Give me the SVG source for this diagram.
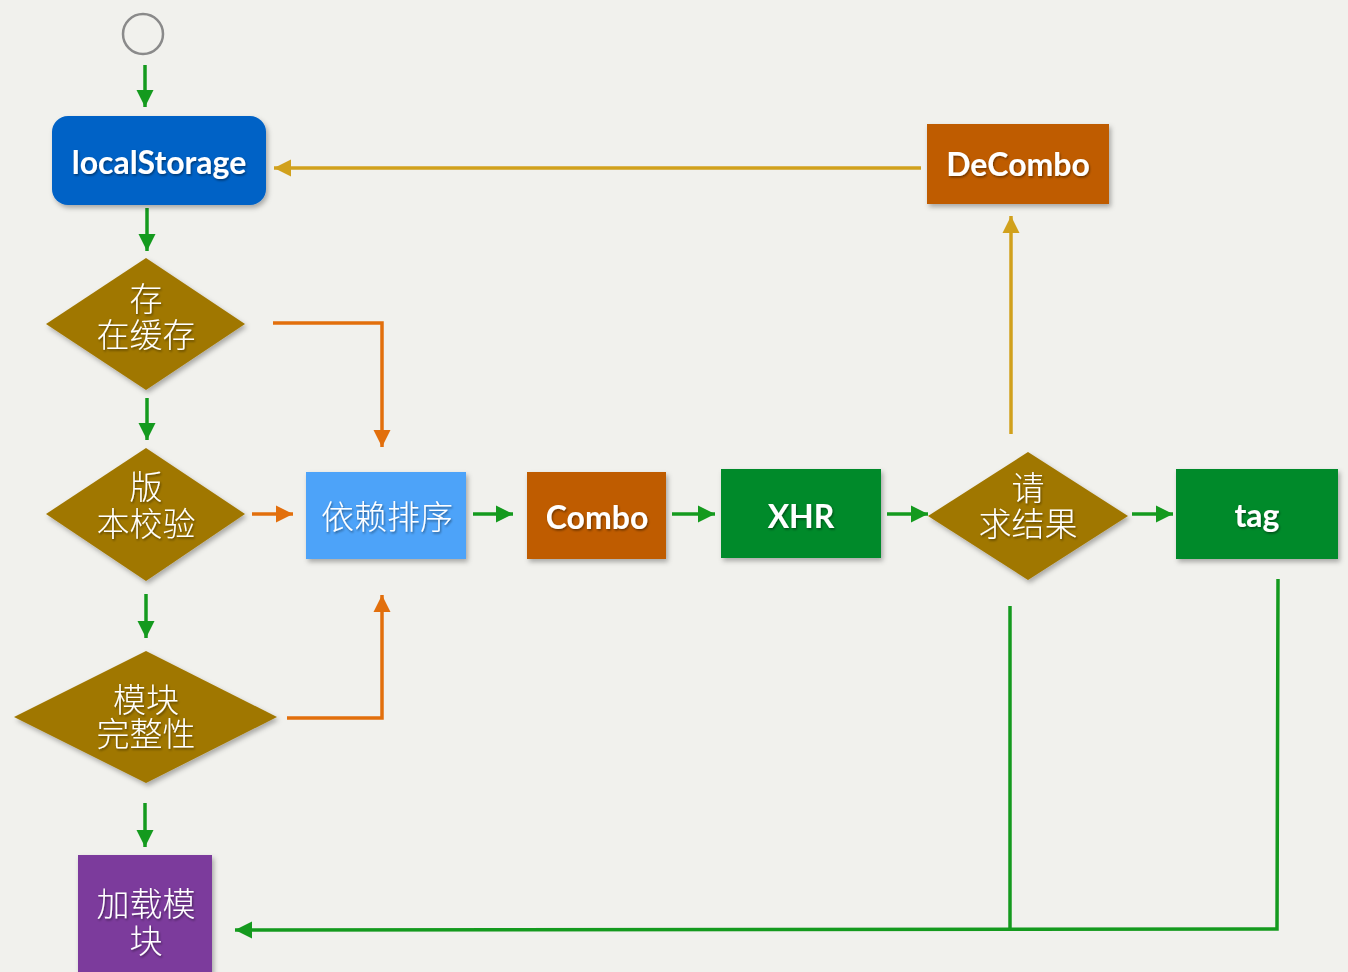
<svg xmlns="http://www.w3.org/2000/svg" width="1348" height="972" viewBox="0 0 1348 972">
  <defs>
    <style>
      .lat { font-family: "Lato", "Liberation Sans", sans-serif; font-size: 32px; font-weight: bold; fill: #ffffff; text-anchor: middle; }
      .cjk { font-family: "Noto Sans CJK SC", "Noto Sans", sans-serif; font-size: 33px; font-weight: 300; fill: #ffffff; text-anchor: middle; }
      .g { stroke: #149a1e; stroke-width: 3.5; fill: none; }
      .o { stroke: #e26f0c; stroke-width: 3.5; fill: none; }
      .y { stroke: #d1a11c; stroke-width: 3.5; fill: none; }
      .dia { fill: #a07700; }
    </style>
    <filter id="sh" x="-10%" y="-10%" width="125%" height="130%">
      <feDropShadow dx="2" dy="3" stdDeviation="2.5" flood-color="#000" flood-opacity="0.3"/>
    </filter>
    <filter id="ts" x="-10%" y="-20%" width="120%" height="150%">
      <feDropShadow dx="1" dy="1.5" stdDeviation="1" flood-color="#000" flood-opacity="0.45"/>
    </filter>
    <marker id="ag" markerUnits="userSpaceOnUse" markerWidth="18" markerHeight="18" refX="17" refY="9" orient="auto">
      <path d="M0,0.5 L17,9 L0,17.5 z" fill="#149a1e"/>
    </marker>
    <marker id="ao" markerUnits="userSpaceOnUse" markerWidth="18" markerHeight="18" refX="17" refY="9" orient="auto">
      <path d="M0,0.5 L17,9 L0,17.5 z" fill="#e26f0c"/>
    </marker>
    <marker id="ay" markerUnits="userSpaceOnUse" markerWidth="18" markerHeight="18" refX="17" refY="9" orient="auto">
      <path d="M0,0.5 L17,9 L0,17.5 z" fill="#d1a11c"/>
    </marker>
  </defs>

  <rect x="0" y="0" width="1348" height="972" fill="#f1f1ed"/>

  <g id="connectors">
    <line class="g" x1="145" y1="65" x2="145" y2="107" marker-end="url(#ag)"/>
    <line class="g" x1="147" y1="208" x2="147" y2="251" marker-end="url(#ag)"/>
    <line class="g" x1="147" y1="398" x2="147" y2="440" marker-end="url(#ag)"/>
    <line class="g" x1="146" y1="594" x2="146" y2="638" marker-end="url(#ag)"/>
    <line class="g" x1="145" y1="803" x2="145" y2="847" marker-end="url(#ag)"/>
    <polyline class="o" points="273,323 382,323 382,447" marker-end="url(#ao)"/>
    <line class="o" x1="252" y1="514" x2="293" y2="514" marker-end="url(#ao)"/>
    <polyline class="o" points="287,718 382,718 382,595" marker-end="url(#ao)"/>
    <line class="g" x1="473" y1="514" x2="513" y2="514" marker-end="url(#ag)"/>
    <line class="g" x1="672" y1="514" x2="715" y2="514" marker-end="url(#ag)"/>
    <line class="g" x1="887" y1="514" x2="928" y2="514" marker-end="url(#ag)"/>
    <line class="g" x1="1132" y1="514" x2="1173" y2="514" marker-end="url(#ag)"/>
    <line class="y" x1="1011" y1="434" x2="1011" y2="216" marker-end="url(#ay)"/>
    <line class="y" x1="921" y1="168" x2="274" y2="168" marker-end="url(#ay)"/>
    <line class="g" x1="1010" y1="606" x2="1010" y2="929"/>
    <polyline class="g" points="1278,579 1277,929 235,930" marker-end="url(#ag)"/>
  </g>

  <g id="start">
    <circle cx="143" cy="34" r="20" fill="none" stroke="#8a8a8a" stroke-width="2.5"/>
  </g>

  <g id="localStorage">
    <rect x="52" y="116" width="214" height="89" rx="16" fill="#0462c6" filter="url(#sh)"/>
    <text class="lat" x="159" y="174" filter="url(#ts)" font-weight="normal">localStorage</text>
  </g>

  <g id="cacheExists">
    <polygon class="dia" points="146,258 245,324 146,390 46,324" filter="url(#sh)"/>
    <text class="cjk" filter="url(#ts)"><tspan x="146" y="311">存</tspan><tspan x="146" y="347">在缓存</tspan></text>
  </g>

  <g id="versionCheck">
    <polygon class="dia" points="146,448 245,514 146,581 46,514" filter="url(#sh)"/>
    <text class="cjk" filter="url(#ts)"><tspan x="146" y="499">版</tspan><tspan x="146" y="536">本校验</tspan></text>
  </g>

  <g id="moduleIntegrity">
    <polygon class="dia" points="146,651 277,717 146,783 14,717" filter="url(#sh)"/>
    <text class="cjk" filter="url(#ts)"><tspan x="146" y="712">模块</tspan><tspan x="146" y="746">完整性</tspan></text>
  </g>

  <g id="loadModule">
    <rect x="78" y="855" width="134" height="125" fill="#7b3a9c" filter="url(#sh)"/>
    <text class="cjk" filter="url(#ts)"><tspan x="146" y="916">加载模</tspan><tspan x="146" y="953">块</tspan></text>
  </g>

  <g id="depSort">
    <rect x="306" y="472" width="160" height="87" fill="#4da3f9" filter="url(#sh)"/>
    <text class="cjk" x="387" y="529" filter="url(#ts)" font-size="34">依赖排序</text>
  </g>

  <g id="combo">
    <rect x="527" y="472" width="139" height="87" fill="#bf5b00" filter="url(#sh)"/>
    <text class="lat" x="597" y="529" filter="url(#ts)">Combo</text>
  </g>

  <g id="xhr">
    <rect x="721" y="469" width="160" height="89" fill="#008a2b" filter="url(#sh)"/>
    <text class="lat" x="801" y="528" filter="url(#ts)">XHR</text>
  </g>

  <g id="requestResult">
    <polygon class="dia" points="1028,452 1128,516 1028,580 928,516" filter="url(#sh)"/>
    <text class="cjk" filter="url(#ts)"><tspan x="1028" y="500">请</tspan><tspan x="1028" y="536">求结果</tspan></text>
  </g>

  <g id="tag">
    <rect x="1176" y="469" width="162" height="90" fill="#008a2b" filter="url(#sh)"/>
    <text class="lat" x="1257" y="527" filter="url(#ts)">tag</text>
  </g>

  <g id="deCombo">
    <rect x="927" y="124" width="182" height="80" fill="#bf5b00" filter="url(#sh)"/>
    <text class="lat" x="1018" y="176" filter="url(#ts)">DeCombo</text>
  </g>
</svg>
